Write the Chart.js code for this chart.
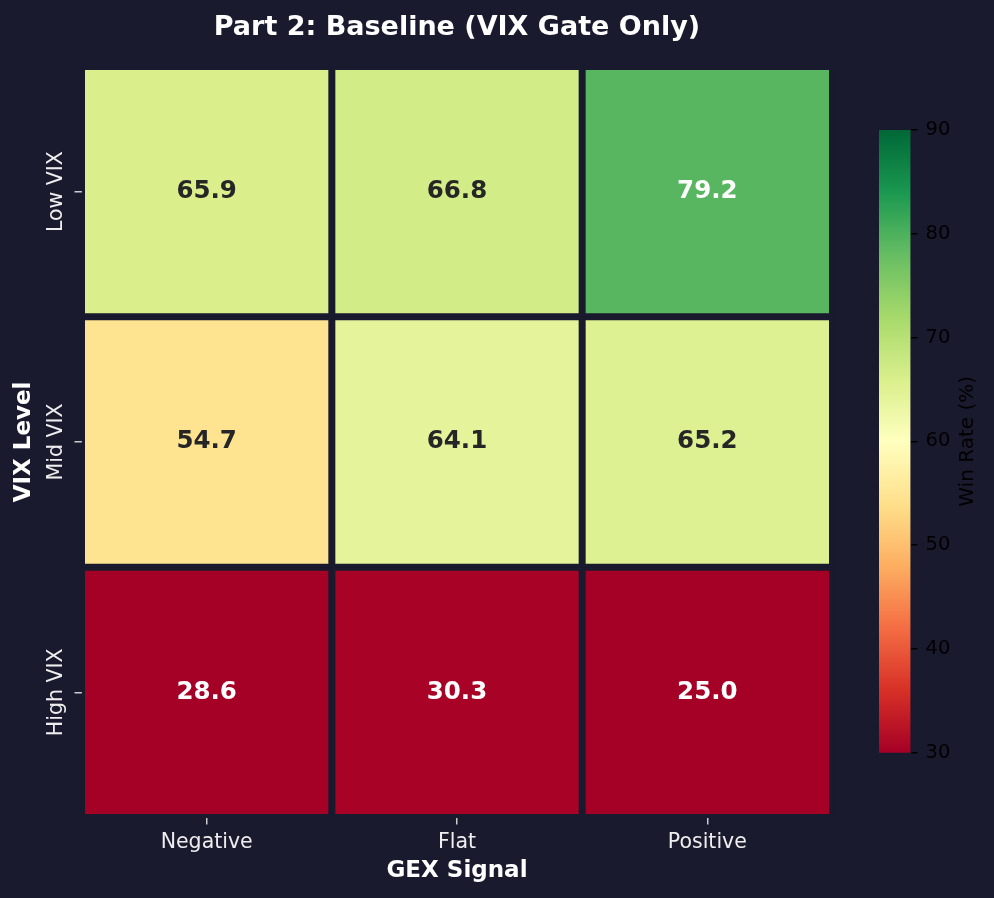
<!DOCTYPE html>
<html>
<head>
<meta charset="utf-8">
<title>Part 2: Baseline (VIX Gate Only)</title>
<script src="https://cdn.jsdelivr.net/npm/chart.js@4.4.1/dist/chart.umd.min.js"></script>
<style>
  html, body { margin: 0; padding: 0; background: #1a1a2e; }
  #wrap { position: relative; width: 994px; height: 898px; }
  #wrap canvas { position: absolute; left: 0; top: 0; }
</style>
</head>
<body>
<div id="wrap">
  <canvas id="heatChart" width="994" height="898"></canvas>
  <canvas id="barChart" width="994" height="898"></canvas>
</div>
<script>
// rows = VIX level, columns = GEX signal
const vixLevels = ["Low VIX", "Mid VIX", "High VIX"];
const gexSignals = ["Negative", "Flat", "Positive"];
const lowVix = [65.9, 66.8, 79.2];
const midVix = [54.7, 64.1, 65.2];
const highVix = [28.6, 30.3, 25.0];

// colour bar range
const cbMin = 30;
const cbMax = 90;
const cbStep = 10;

const BG = "#1a1a2e";
const FONT = "'DejaVu Sans', sans-serif";

// RdYlGn anchor colours
const rdYlGn = [
  "#a50026", "#d73027", "#f46d43", "#fdae61", "#fee08b", "#ffffbf",
  "#d9ef8b", "#a6d96a", "#66bd63", "#1a9850", "#006837",
];

Chart.defaults.font.family = FONT;

function hexToRgb(h) {
  return [1, 3, 5].map((i) => parseInt(h.slice(i, i + 2), 16));
}

function cmapRgb(v) {
  let t = (v - cbMin) / (cbMax - cbMin);
  t = Math.max(0, Math.min(1, t));
  const pos = t * (rdYlGn.length - 1);
  const i = Math.min(Math.floor(pos), rdYlGn.length - 2);
  const f = pos - i;
  const a = hexToRgb(rdYlGn[i]);
  const b = hexToRgb(rdYlGn[i + 1]);
  return a.map((c, k) => Math.round(c + (b[k] - c) * f));
}

function cmap(v) {
  const [r, g, b] = cmapRgb(v);
  return `rgb(${r},${g},${b})`;
}

function textColor(v) {
  const lin = cmapRgb(v).map((c) => {
    c /= 255;
    return c <= 0.03928 ? c / 12.92 : Math.pow((c + 0.055) / 1.055, 2.4);
  });
  const lum = 0.2126 * lin[0] + 0.7152 * lin[1] + 0.0722 * lin[2];
  return lum > 0.408 ? "#262626" : "#ffffff";
}

const cellLabels = {
  id: "cellLabels",
  afterDatasetsDraw(chart) {
    const ctx = chart.ctx;
    ctx.save();
    ctx.font = `bold 24.5px ${FONT}`;
    ctx.textAlign = "center";
    ctx.textBaseline = "alphabetic";
    chart.data.datasets.forEach((ds, d) => {
      chart.getDatasetMeta(d).data.forEach((bar, i) => {
        const v = ds.winRates[i];
        ctx.fillStyle = textColor(v);
        ctx.fillText(v.toFixed(1), bar.x, (bar.y + bar.base) / 2 + 6.3);
      });
    });
    ctx.restore();
  },
};

// y tick labels are rotated like the original, so draw them by hand
const yTickText = {
  id: "yTickText",
  afterDraw(chart) {
    const scale = chart.scales.y;
    const ctx = chart.ctx;
    ctx.save();
    ctx.font = `20.5px ${FONT}`;
    ctx.fillStyle = "#eeeeee";
    ctx.textAlign = "center";
    ctx.textBaseline = "alphabetic";
    scale.ticks.forEach((t) => {
      const y = scale.getPixelForValue(t.value);
      ctx.save();
      ctx.translate(scale.right - 19.5, y);
      ctx.rotate(-Math.PI / 2);
      ctx.fillText(vixLevels[Math.floor(t.value)], 0, 0);
      ctx.restore();
    });
    ctx.restore();
  },
};

const cbLabel = {
  id: "cbLabel",
  afterDraw(chart) {
    const area = chart.chartArea;
    const ctx = chart.ctx;
    ctx.save();
    ctx.font = `20px ${FONT}`;
    ctx.fillStyle = "#000000";
    ctx.textAlign = "center";
    ctx.textBaseline = "alphabetic";
    ctx.translate(973, (area.top + area.bottom) / 2);
    ctx.rotate(-Math.PI / 2);
    ctx.fillText("Win Rate (%)", 0, 0);
    ctx.restore();
  },
};

function cbGradient(chart) {
  const area = chart.chartArea;
  if (!area) return rdYlGn[0];
  const g = chart.ctx.createLinearGradient(0, area.bottom, 0, area.top);
  rdYlGn.forEach((c, i) => g.addColorStop(i / (rdYlGn.length - 1), c));
  return g;
}

function initHeatChart() {
  const rows = [lowVix, midVix, highVix];
  return new Chart(document.getElementById("heatChart"), {
    type: "bar",
    data: {
      labels: gexSignals,
      datasets: rows.map((vals, r) => ({
        label: vixLevels[r],
        data: vals.map(() => [r, r + 1]),
        winRates: vals,
        backgroundColor: vals.map(cmap),
        borderColor: BG,
        borderWidth: 3.5,
        borderSkipped: false,
        inflateAmount: 0,
        grouped: false,
        barPercentage: 1,
        categoryPercentage: 1,
      })),
    },
    options: {
      responsive: false,
      animation: false,
      layout: { padding: { left: 0, right: 161.5, top: 0, bottom: 0 } },
      plugins: {
        legend: { display: false },
        tooltip: { enabled: false },
        title: {
          display: true,
          fullSize: false,
          text: "Part 2: Baseline (VIX Gate Only)",
          color: "#ffffff",
          font: { size: 27, weight: "bold" },
          padding: { top: 12, bottom: 22 },
        },
      },
      scales: {
        x: {
          type: "category",
          offset: true,
          grid: {
            offset: false,
            drawOnChartArea: false,
            tickLength: 7,
            color: "#cccccc",
            lineWidth: 1.5,
          },
          border: { display: false },
          ticks: { color: "#eeeeee", font: { size: 20.5 }, padding: 6 },
          title: {
            display: true,
            text: "GEX Signal",
            color: "#ffffff",
            font: { size: 23, weight: "bold" },
            padding: { top: 0, bottom: 12.7 },
          },
          afterFit(s) {
            s.height = 80.5;
          },
        },
        y: {
          type: "linear",
          min: 0,
          max: vixLevels.length,
          reverse: true,
          afterBuildTicks(s) {
            s.ticks = vixLevels.map((_, i) => ({ value: i + 0.5 }));
          },
          ticks: { color: "rgba(0,0,0,0)", font: { size: 20.5 } },
          grid: {
            drawOnChartArea: false,
            tickLength: 7,
            color: "#cccccc",
            lineWidth: 1.5,
          },
          border: { display: false },
          title: {
            display: true,
            text: "VIX Level",
            color: "#ffffff",
            font: { size: 23, weight: "bold" },
            padding: { top: 10.2, bottom: 0 },
          },
          afterFit(s) {
            s.width = 81.5;
          },
        },
      },
    },
    plugins: [cellLabels, yTickText],
  });
}

function initColorBar() {
  return new Chart(document.getElementById("barChart"), {
    type: "bar",
    data: {
      labels: ["Win Rate (%)"],
      datasets: [
        {
          data: [[cbMin, cbMax]],
          backgroundColor: (c) => cbGradient(c.chart),
          borderWidth: 0,
          barPercentage: 1,
          categoryPercentage: 1,
        },
      ],
    },
    options: {
      responsive: false,
      animation: false,
      layout: { padding: { left: 879, right: 0, top: 130, bottom: 145.3 } },
      plugins: {
        legend: { display: false },
        tooltip: { enabled: false },
      },
      scales: {
        x: { display: false },
        y: {
          position: "right",
          min: cbMin,
          max: cbMax,
          ticks: {
            stepSize: cbStep,
            color: "#000000",
            font: { size: 19.5 },
            padding: 8,
          },
          grid: {
            drawOnChartArea: false,
            tickLength: 7,
            color: "#000000",
            lineWidth: 1.5,
          },
          border: { display: false },
          afterFit(s) {
            s.width = 83.5;
          },
        },
      },
    },
    plugins: [cbLabel],
  });
}

function init() {
  initHeatChart();
  initColorBar();
}

init();
</script>
</body>
</html>
